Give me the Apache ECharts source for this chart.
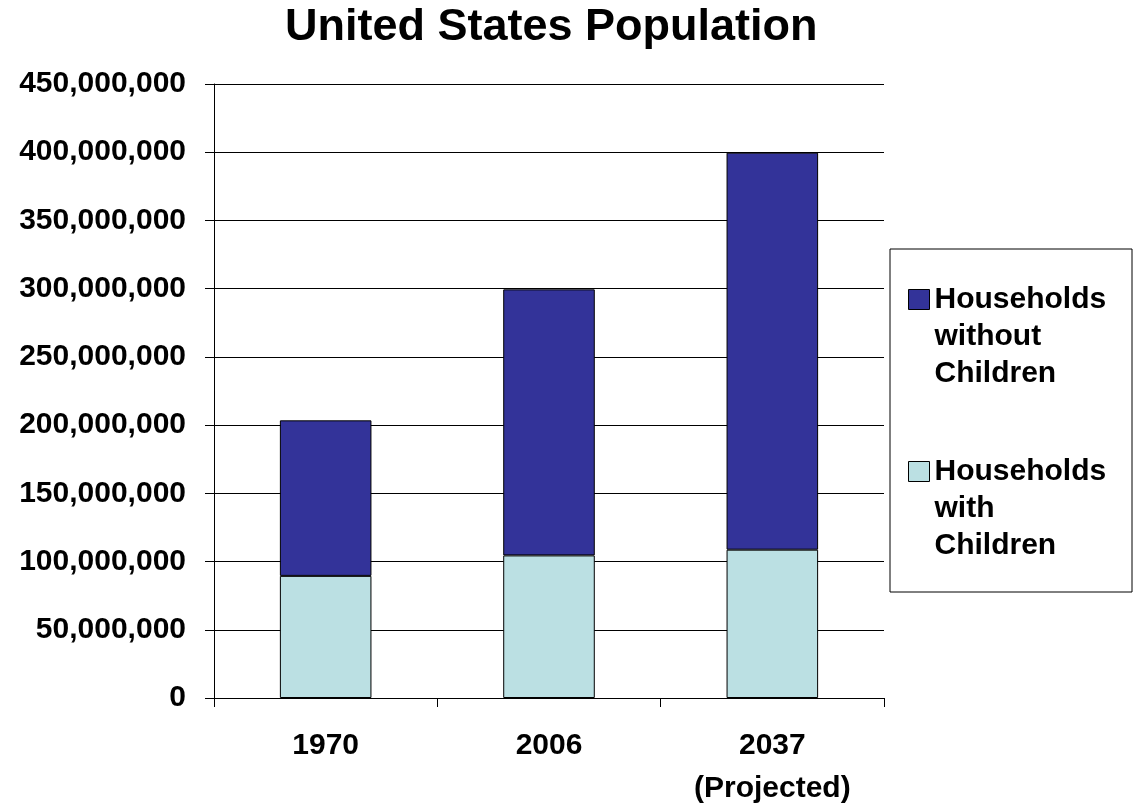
<!DOCTYPE html>
<html><head><meta charset="utf-8">
<script src="https://cdn.jsdelivr.net/npm/echarts@6/dist/echarts.min.js"></script>
<style>html,body{margin:0;padding:0;background:#fff}#c{width:1138px;height:810px}</style>
</head><body><div id="c"></div>
<script>
const categories = ['1970', '2006', '2037\n(Projected)'];
const withChildren = [89500000, 104500000, 108700000];
const withoutChildren = [114000000, 195000000, 291000000];
const seriesNames = ['Households with Children', 'Households without Children'];
const legendLabels = {
  'Households without Children': '\n\nHouseholds\nwithout\nChildren',
  'Households with Children': '\n\nHouseholds\nwith\nChildren'
};
const FONT = '"Liberation Sans", Arial, sans-serif';
const legendBase = {
  orient: 'vertical', left: 908, padding: 0,
  itemWidth: 21, itemHeight: 20, icon: 'rect',
  formatter: n => legendLabels[n],
  textStyle: {fontFamily: FONT, fontWeight: 'bold', fontSize: 30, color: '#000', lineHeight: 37},
  itemStyle: {borderColor: '#000', borderWidth: 1}
};
const chart = echarts.init(document.getElementById('c'));
chart.setOption({
  animation: false,
  backgroundColor: '#fff',
  title: {
    text: 'United States Population', left: 280, top: 0,
    textStyle: {fontFamily: FONT, fontWeight: 'bold', fontSize: 45, color: '#000'}
  },
  grid: {left: 214, right: 254, top: 84, bottom: 112},
  legend: [
    Object.assign({}, legendBase, {top: 299 - 92, data: [seriesNames[1]]}),
    Object.assign({}, legendBase, {top: 471 - 92, data: [seriesNames[0]]})
  ],
  graphic: [{
    type: 'rect', shape: {x: 890, y: 249, width: 242, height: 343},
    style: {fill: 'none', stroke: '#000', lineWidth: 1}, z: -1
  }],
  xAxis: {
    type: 'category', data: categories,
    axisLine: {lineStyle: {color: '#000', width: 1}},
    axisTick: {show: true, length: 9, lineStyle: {color: '#000'}},
    axisLabel: {fontFamily: FONT, fontWeight: 'bold', fontSize: 30, color: '#000', margin: 26, lineHeight: 43}
  },
  yAxis: {
    type: 'value', min: 0, max: 450000000, interval: 50000000,
    axisLine: {show: true, lineStyle: {color: '#000', width: 1}},
    axisTick: {show: true, inside: false, length: 9, lineStyle: {color: '#000'}},
    splitLine: {lineStyle: {color: '#000', width: 1}},
    axisLabel: {
      fontFamily: FONT, fontWeight: 'bold', fontSize: 30, color: '#000', margin: 28,
      formatter: v => v.toLocaleString('en-US')
    }
  },
  series: [
    {name: seriesNames[0], type: 'bar', stack: 'pop', data: withChildren, barWidth: '41%',
     itemStyle: {color: '#BBE0E3', borderColor: '#000', borderWidth: 1}},
    {name: seriesNames[1], type: 'bar', stack: 'pop', data: withoutChildren, barWidth: '41%',
     itemStyle: {color: '#333399', borderColor: '#000', borderWidth: 1}}
  ]
});
</script></body></html>
